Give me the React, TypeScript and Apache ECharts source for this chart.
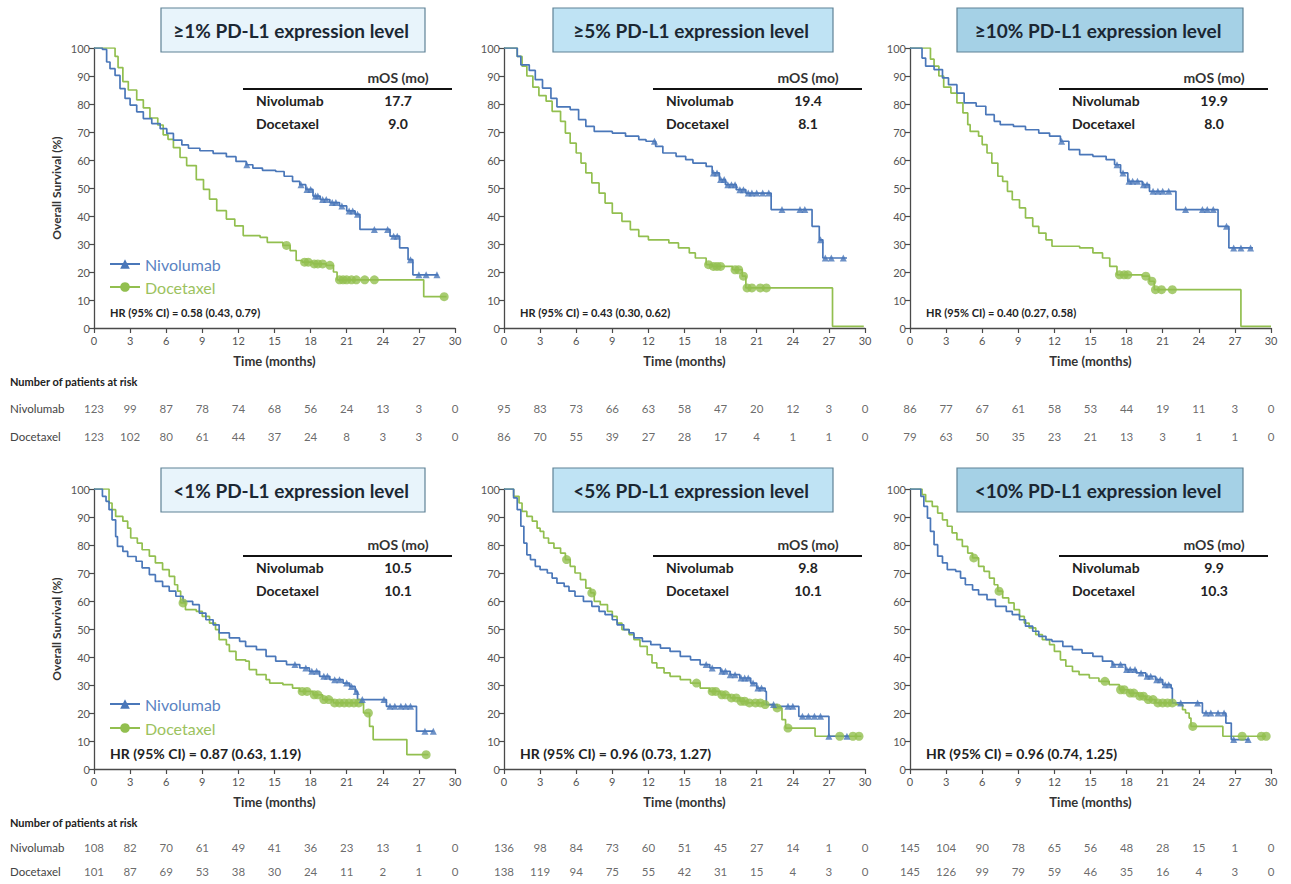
import React, { useEffect, useRef } from 'react';
import * as echarts from 'echarts';

// ---------------- DATA ----------------
const months = [0, 3, 6, 9, 12, 15, 18, 21, 24, 27, 30];

const panelTitles = [
  '≥1% PD-L1 expression level',
  '≥5% PD-L1 expression level',
  '≥10% PD-L1 expression level',
  '<1% PD-L1 expression level',
  '<5% PD-L1 expression level',
  '<10% PD-L1 expression level',
];
const nivoMOS = ['17.7', '19.4', '19.9', '10.5', '9.8', '9.9'];
const doceMOS = ['9.0', '8.1', '8.0', '10.1', '10.1', '10.3'];
const hrTexts = [
  'HR (95% CI) = 0.58 (0.43, 0.79)',
  'HR (95% CI) = 0.43 (0.30, 0.62)',
  'HR (95% CI) = 0.40 (0.27, 0.58)',
  'HR (95% CI) = 0.87 (0.63, 1.19)',
  'HR (95% CI) = 0.96 (0.73, 1.27)',
  'HR (95% CI) = 0.96 (0.74, 1.25)',
];

const nivoRisk = [
  [123, 99, 87, 78, 74, 68, 56, 24, 13, 3, 0],
  [95, 83, 73, 66, 63, 58, 47, 20, 12, 3, 0],
  [86, 77, 67, 61, 58, 53, 44, 19, 11, 3, 0],
  [108, 82, 70, 61, 49, 41, 36, 23, 13, 1, 0],
  [136, 98, 84, 73, 60, 51, 45, 27, 14, 1, 0],
  [145, 104, 90, 78, 65, 56, 48, 28, 15, 1, 0],
];
const doceRisk = [
  [123, 102, 80, 61, 44, 37, 24, 8, 3, 3, 0],
  [86, 70, 55, 39, 27, 28, 17, 4, 1, 1, 0],
  [79, 63, 50, 35, 23, 21, 13, 3, 1, 1, 0],
  [101, 87, 69, 53, 38, 30, 24, 11, 2, 1, 0],
  [138, 119, 94, 75, 55, 42, 31, 15, 4, 3, 0],
  [145, 126, 99, 79, 59, 46, 35, 16, 4, 3, 0],
];

// Kaplan-Meier curves [month, survival %]
const nivo1 = [[0,100],[0.7,99.5],[1.05,95],[1.33,92.6],[1.75,90.2],[2.16,85.5],[2.58,82],[3.0,79.6],[3.55,77.2],[4.1,74.8],[4.8,73],[5.5,71.2],[6.05,69.5],[6.6,67.1],[7.3,65.4],[7.85,64.2],[8.8,63.3],[9.9,62.4],[11,61.2],[11.8,59.5],[12.65,58.3],[13.2,57.1],[14,56.3],[15.1,55.9],[15.8,54.2],[16.5,52.4],[17.1,51.2],[17.6,49.5],[18.2,47.1],[18.8,45.9],[19.6,44.8],[20.4,43.6],[21,41.8],[21.7,40.6],[22.1,35.2],[24.6,32.8],[25.4,28.6],[26.1,24.4],[26.5,19],[28.6,19]];
const doce1 = [[0,100],[1.75,97],[2.0,93],[2.4,88],[2.85,85],[3.55,81.5],[4.1,78.6],[4.65,75],[5.3,72.5],[5.75,69],[6.15,67.4],[6.6,64.4],[7.15,60.9],[7.7,58],[8.5,53],[9.1,49.5],[9.6,46],[10.2,41.9],[11,38.9],[11.7,36.5],[12.4,33],[13.8,32.4],[14.4,30.6],[15.7,29.5],[16.3,27.6],[16.8,24.1],[17.3,23.5],[18.2,22.9],[19.3,22.4],[19.9,20],[20.2,17.2],[27.4,11.2],[29.3,11.2]];
const nivo2 = [[0,100],[1.1,97],[1.4,94],[2.1,92],[2.6,88.7],[3.2,85.7],[3.9,82],[4.4,79],[5.5,78],[6.2,74.4],[6.8,72],[7.5,70.2],[9,69.6],[10.1,68.5],[11.2,67.3],[11.8,66.7],[12.6,64.9],[13.2,62.5],[14.3,61.3],[15.1,60.1],[15.7,58.9],[16.8,57.7],[17.3,55.4],[17.9,53],[18.4,51.2],[19.3,49.4],[20.1,48.2],[22.2,42.3],[25.6,36.3],[26.2,31.5],[26.5,25],[28.5,25]];
const doce2 = [[0,100],[1.1,97],[1.5,93.5],[1.9,90],[2.4,86],[2.9,83],[3.5,81],[4.0,77.4],[4.7,73.8],[5.1,69.6],[5.5,66],[6.0,62.5],[6.4,58.9],[6.8,55.4],[7.3,51.8],[7.9,48.2],[8.4,44.6],[9.0,41],[9.8,38.1],[10.5,35.1],[11.2,32.7],[12,31.5],[13.7,30.4],[14.5,28.6],[15.4,26.8],[15.9,25],[16.8,22.6],[17.3,22],[19,20.8],[19.8,18.5],[20.1,14.3],[27.3,0.6],[29.9,0.6]];
const nivo3 = [[0,100],[1.0,96.4],[1.3,93.5],[2.0,92.3],[2.7,89.3],[3.2,86.9],[3.9,83.9],[4.5,80.4],[5.5,79.2],[6.3,76.2],[7.0,73.8],[7.5,72.6],[8.6,72],[9.6,70.8],[10.7,69.6],[11.6,68.5],[12.5,66.7],[13.2,63.7],[14.1,61.9],[15.2,61.3],[16.3,60.1],[17.0,58.3],[17.5,55.4],[18.1,52.4],[19.3,51.2],[19.9,48.8],[22.1,42.3],[25.6,36.3],[26.5,28.6],[28.5,28.6]];
const doce3 = [[0,100],[1.7,96],[2.0,93.5],[2.4,90],[2.8,86],[3.4,83.9],[3.9,80.4],[4.4,76.8],[4.8,72.6],[5.0,70.2],[5.7,68.5],[6.0,65.5],[6.4,62.5],[6.8,58.9],[7.3,54.2],[7.7,52.4],[8.1,48.8],[8.5,45.8],[9.1,42.9],[9.6,39.3],[10.2,36.3],[10.7,33.9],[11.3,31.5],[11.8,29.2],[14.1,28.6],[15.2,26.8],[16.0,25],[16.6,22],[17.2,19],[19.3,18.5],[19.9,16.7],[20.3,13.7],[27.5,0.6],[30,0.6]];
const nivo4 = [[0,100],[0.7,97.4],[1.0,95.6],[1.25,92.6],[1.5,89],[1.8,83],[1.95,79.5],[2.4,77.7],[2.8,75.9],[3.5,74.2],[4.0,71.8],[4.6,69.4],[5.1,67],[5.7,65.2],[6.25,63.5],[6.8,61.7],[7.4,59.9],[8.2,58.7],[8.75,55.7],[9.3,53.3],[9.9,51.5],[10.4,48.6],[11.25,46.8],[12.1,45.6],[12.6,43.8],[13.5,42.6],[14.3,40.2],[15.1,38.5],[16.0,37.3],[17.1,36.1],[17.9,34.9],[18.75,33.1],[19.6,31.9],[20.7,30.7],[21.25,29.5],[21.7,27.7],[21.9,24.8],[24.3,22.4],[26.8,13.5],[28.2,13.5]];
const doce4 = [[0,100],[1.25,95],[1.5,92.6],[1.8,90.2],[2.4,88.5],[2.8,86],[3.05,82.5],[3.6,80.7],[4.0,78.3],[4.6,76],[5.1,73.6],[5.7,71.2],[6.25,68.8],[6.7,65.8],[6.95,63.5],[7.2,59.3],[7.6,56.9],[8.5,56.3],[9.0,54.5],[9.6,52.1],[10.1,49.8],[10.4,46.2],[11.0,44.4],[11.25,42],[11.8,39],[12.6,38.5],[12.9,35.5],[13.5,33.7],[14.3,31.9],[14.6,30.7],[15.7,30.1],[16.5,28.9],[17.1,27.7],[18.2,26.5],[19.0,24.8],[19.9,23.6],[22.4,20],[22.9,15.2],[23.2,10.5],[26.0,5.1],[27.8,5.1]];
const nivo5 = [[0,100],[0.8,96.8],[1.1,92.6],[1.4,86.7],[1.65,80.7],[1.9,76.5],[2.2,74.8],[2.6,72.4],[3.0,71.2],[3.6,70],[4.0,68.2],[4.4,66.4],[5.0,65.2],[5.4,63.5],[5.9,61.7],[6.6,59.9],[7.3,58.1],[7.9,56.3],[8.4,55.1],[9.0,53.3],[9.4,51.5],[9.95,49.8],[10.4,48.6],[10.8,46.8],[11.5,45.6],[12.2,44.4],[13.0,43.2],[13.8,42],[14.65,40.2],[15.5,39],[16.3,37.3],[17.1,36.1],[18.0,34.9],[18.8,33.7],[19.6,32.5],[20.5,30.7],[21.0,28.9],[21.7,27.7],[21.8,23],[22.7,22.4],[24.5,18.8],[27.0,11.7],[28.75,11.7]];
const doce5 = [[0,100],[0.8,97.4],[1.25,95],[1.5,92],[1.9,90.2],[2.35,88.5],[2.75,86],[3.0,84.9],[3.3,82.5],[3.7,80.7],[4.15,78.9],[4.7,77.1],[5.1,74.8],[5.5,72.4],[5.9,70],[6.35,67.6],[6.8,64.6],[7.2,62.9],[7.5,59.9],[8.0,58.7],[8.6,56.3],[9.0,54.5],[9.4,52.1],[9.8,49.8],[10.4,48],[10.8,46.2],[11.3,43.8],[11.9,40.8],[12.3,37.9],[12.7,36.1],[13.3,34.3],[13.8,33.1],[14.65,31.9],[15.5,30.7],[16.3,28.9],[17.1,27.7],[18.0,26.5],[18.8,25.4],[19.6,24.2],[20.2,23.6],[21.6,23],[22.4,21.8],[23.1,17.6],[23.4,14.6],[25.85,11.7],[29.7,11.7]];
const nivo6 = [[0,100],[0.9,97.4],[1.15,93.8],[1.45,89.6],[1.7,84.9],[2.0,80.1],[2.3,76],[2.7,73.6],[3.1,71.2],[3.8,70.6],[4.2,68.2],[4.6,65.8],[5.2,64],[5.7,62.3],[6.4,60.5],[7.1,58.1],[8.0,56.3],[8.5,55.1],[9.1,53.3],[9.6,51],[10.2,49.2],[10.7,47.4],[11.3,46.2],[11.8,45.6],[12.7,43.8],[13.5,42.6],[14.3,41.4],[15.2,40.2],[16.0,38.5],[16.8,37.3],[17.9,35.5],[18.8,34.3],[19.6,33.1],[20.4,31.9],[21.0,30.1],[21.7,28.9],[21.8,23.6],[24.3,20],[26.25,16.4],[26.7,10.5],[28.2,10.5]];
const doce6 = [[0,100],[1.0,98],[1.3,95.6],[1.85,93.8],[2.3,91.4],[2.7,89],[3.1,86.7],[3.5,84.3],[3.9,81.9],[4.35,79.5],[4.8,77.1],[5.2,75.4],[5.7,72.4],[6.15,70.6],[6.6,68.2],[7.0,65.8],[7.3,63.5],[7.7,61.1],[8.2,59.3],[8.65,56.9],[9.1,54.5],[9.5,52.1],[9.9,50.4],[10.45,48],[11.0,46.2],[11.6,44.4],[12.0,42],[12.5,39],[12.95,36.7],[13.5,34.9],[14.05,33.7],[14.9,32.5],[15.7,31.3],[16.55,30.1],[17.4,28.3],[18.2,27.1],[19.0,26],[19.6,24.8],[20.4,23.6],[22.1,23],[22.65,21.2],[22.9,20],[23.2,18.2],[23.35,15.2],[26.0,11.7],[29.6,11.7]];

// censored observations [month, survival %]
const nivoCens1 = [[12.7,58.3],[17.2,51.2],[17.7,49.5],[18.0,49.5],[18.4,47.1],[18.6,47.1],[19.0,45.9],[19.3,45.9],[19.8,44.8],[20.1,44.8],[20.6,43.6],[21.2,41.8],[21.5,41.8],[21.9,40.6],[23.3,35.2],[24.4,35.2],[24.9,32.8],[25.2,32.8],[26.3,24.4],[27.0,19],[27.6,19],[28.5,19]];
const doceCens1 = [[16.0,29.5],[17.5,23.5],[17.8,23.5],[18.3,22.9],[18.6,22.9],[19.0,22.9],[19.6,22.4],[20.4,17.2],[20.7,17.2],[21.0,17.2],[21.4,17.2],[21.8,17.2],[22.5,17.2],[23.3,17.2],[29.1,11.2]];
const nivoCens2 = [[12.5,66.7],[17.4,55.4],[17.7,55.4],[18.0,53],[18.3,53],[18.6,51.2],[18.9,51.2],[19.2,51.2],[19.6,49.4],[19.9,49.4],[20.3,48.2],[20.6,48.2],[21.0,48.2],[21.5,48.2],[22.0,48.2],[23.1,42.3],[24.6,42.3],[25.0,42.3],[26.3,31.5],[26.7,25],[27.2,25],[28.2,25]];
const doceCens2 = [[17.0,22.6],[17.4,22],[17.7,22],[18.0,22],[19.2,20.8],[19.5,20.8],[19.9,18.5],[20.2,14.3],[20.6,14.3],[21.3,14.3],[21.8,14.3]];
const nivoCens3 = [[12.6,66.7],[17.2,58.3],[17.7,55.4],[18.2,52.4],[18.5,52.4],[18.9,52.4],[19.4,51.2],[19.7,51.2],[20.2,48.8],[20.6,48.8],[21.0,48.8],[21.5,48.8],[22.9,42.3],[24.3,42.3],[24.7,42.3],[25.2,42.3],[26.3,36.3],[26.9,28.6],[27.5,28.6],[28.3,28.6]];
const doceCens3 = [[17.4,19],[17.8,19],[18.1,19],[19.6,18.5],[20.1,16.7],[20.4,13.7],[20.9,13.7],[21.8,13.7]];
const nivoCens4 = [[16.7,37.3],[17.6,36.1],[18.1,34.9],[18.5,34.9],[19.1,33.1],[19.4,33.1],[20.0,31.9],[20.4,31.9],[21.0,30.7],[21.4,29.5],[21.8,27.7],[22.3,24.8],[24.1,24.8],[24.6,22.4],[25.0,22.4],[25.5,22.4],[25.9,22.4],[26.3,22.4],[27.5,13.5],[28.2,13.5]];
const doceCens4 = [[7.4,59.3],[17.3,27.7],[17.7,27.7],[18.3,26.5],[18.6,26.5],[19.1,24.8],[19.5,24.8],[20.0,23.6],[20.4,23.6],[20.8,23.6],[21.2,23.6],[21.6,23.6],[22.0,23.6],[22.8,20],[27.6,5.1]];
const nivoCens5 = [[16.8,37.3],[17.3,36.1],[18.1,34.9],[18.4,34.9],[18.8,33.7],[19.2,33.7],[19.7,32.5],[20.0,32.5],[20.3,32.5],[20.7,30.7],[21.1,28.9],[21.4,28.9],[22.4,23],[23.6,22.4],[24.0,22.4],[24.8,18.8],[25.3,18.8],[25.8,18.8],[26.3,18.8],[27.0,11.7],[28.5,11.7]];
const doceCens5 = [[5.2,74.8],[7.3,62.9],[16.0,30.7],[17.3,27.7],[17.6,27.7],[18.1,26.5],[18.4,26.5],[18.9,25.4],[19.3,25.4],[19.7,24.2],[20.0,24.2],[20.4,23.6],[20.9,23.6],[21.3,23.6],[21.7,23],[22.7,21.8],[23.6,14.6],[27.9,11.7],[29.0,11.7],[29.5,11.7]];
const nivoCens6 = [[16.9,37.3],[17.5,37.3],[18.0,35.5],[18.3,35.5],[18.7,35.5],[19.2,34.3],[19.7,33.1],[20.0,33.1],[20.5,31.9],[20.8,31.9],[21.2,30.1],[21.5,30.1],[22.5,23.6],[23.9,23.6],[24.6,20],[25.0,20],[25.6,20],[26.1,20],[26.9,10.5],[28.1,10.5]];
const doceCens6 = [[5.3,75.4],[7.4,63.5],[16.2,31.3],[17.5,28.3],[17.8,28.3],[18.3,27.1],[18.6,27.1],[19.1,26],[19.4,26],[19.8,24.8],[20.2,24.8],[20.6,23.6],[21.0,23.6],[21.4,23.6],[21.8,23.6],[23.5,15.2],[27.6,11.7],[29.2,11.7],[29.6,11.7]];

const nivoCurves = [nivo1, nivo2, nivo3, nivo4, nivo5, nivo6];
const doceCurves = [doce1, doce2, doce3, doce4, doce5, doce6];
const nivoCens = [nivoCens1, nivoCens2, nivoCens3, nivoCens4, nivoCens5, nivoCens6];
const doceCens = [doceCens1, doceCens2, doceCens3, doceCens4, doceCens5, doceCens6];

// ---------------- STYLE / LAYOUT ----------------
const BLUE = '#4a77b9';
const GREEN = '#92bf4f';
const FONT = 'Lato, "Open Sans", sans-serif';
const AXIS = '#4a4a4a';

const colLeft = [94, 504, 910];
const rowTop = [48, 489];
const PW = 361;
const PH = 280;
const riskTop = [394, 835];
const riskH = [56, 52];
const titleBoxX = [161, 553, 957];
const titleBoxW = [264, 280, 286];
const titleBoxY = [8, 468];
const titleFill = ['#e8f4fb', '#bfe3f4', '#a5d1e6'];
const tableY = [89, 556];
const hrY = [312, 753];
const hrSize = [11, 14];
const riskHeaderY = [381, 822];

function buildOption() {
  const grid: any[] = [];
  const xAxis: any[] = [];
  const yAxis: any[] = [];
  const series: any[] = [];
  const graphic: any[] = [];

  for (let p = 0; p < 6; p++) {
    const c = p % 3;
    const r = Math.floor(p / 3);
    grid.push({ left: colLeft[c], top: rowTop[r], width: PW, height: PH });
  }
  for (let p = 0; p < 6; p++) {
    const c = p % 3;
    const r = Math.floor(p / 3);
    grid.push({ left: colLeft[c], top: riskTop[r], width: PW, height: riskH[r] });
  }

  for (let p = 0; p < 6; p++) {
    const c = p % 3;
    xAxis.push({
      gridIndex: p, type: 'value', min: 0, max: 30, interval: 3,
      axisLine: { show: true, lineStyle: { color: AXIS, width: 1.3 } },
      axisTick: { show: true, length: 5, lineStyle: { color: AXIS, width: 1.2 } },
      axisLabel: { fontSize: 11, color: '#555', margin: 7, fontFamily: FONT },
      splitLine: { show: false },
      name: 'Time (months)', nameLocation: 'middle', nameGap: 26,
      nameTextStyle: { fontWeight: 'bold', fontSize: 13, color: '#333', fontFamily: FONT },
    });
    yAxis.push({
      gridIndex: p, type: 'value', min: 0, max: 100, interval: 10,
      axisLine: { show: true, lineStyle: { color: AXIS, width: 1.3 } },
      axisTick: { show: true, length: 5, lineStyle: { color: AXIS, width: 1.2 } },
      axisLabel: { fontSize: 11, color: '#555', margin: 4, fontFamily: FONT },
      splitLine: { show: false },
      name: c === 0 ? 'Overall Survival (%)' : '',
      nameLocation: 'middle', nameGap: 32, nameRotate: 90,
      nameTextStyle: { fontWeight: 'bold', fontSize: 12, color: '#333', fontFamily: FONT },
    });
  }
  for (let p = 0; p < 6; p++) {
    const c = p % 3;
    xAxis.push({ gridIndex: 6 + p, type: 'value', min: 0, max: 30, show: false });
    yAxis.push({
      gridIndex: 6 + p, type: 'category', data: ['Docetaxel', 'Nivolumab'],
      axisLine: { show: false }, axisTick: { show: false }, splitLine: { show: false },
      axisLabel: { show: c === 0, align: 'left', margin: 84, fontSize: 11.5, color: '#444', fontFamily: FONT },
    });
  }

  for (let p = 0; p < 6; p++) {
    series.push({
      name: 'Nivolumab', type: 'line', step: 'end', xAxisIndex: p, yAxisIndex: p,
      data: nivoCurves[p], symbol: 'triangle', showSymbol: false, silent: true,
      itemStyle: { color: BLUE }, lineStyle: { color: BLUE, width: 1.7 }, z: 3,
    });
    series.push({
      name: 'Docetaxel', type: 'line', step: 'end', xAxisIndex: p, yAxisIndex: p,
      data: doceCurves[p], symbol: 'circle', showSymbol: false, silent: true,
      itemStyle: { color: GREEN }, lineStyle: { color: GREEN, width: 1.7 }, z: 2,
    });
    series.push({
      name: 'Nivolumab censored', type: 'scatter', xAxisIndex: p, yAxisIndex: p,
      data: nivoCens[p], symbol: 'triangle', symbolSize: 7, silent: true,
      itemStyle: { color: BLUE }, z: 4,
    });
    series.push({
      name: 'Docetaxel censored', type: 'scatter', xAxisIndex: p, yAxisIndex: p,
      data: doceCens[p], symbol: 'circle', symbolSize: 9, silent: true,
      itemStyle: { color: GREEN }, z: 3,
    });
    const riskData = months.map((m, i) => [m, 1, nivoRisk[p][i]])
      .concat(months.map((m, i) => [m, 0, doceRisk[p][i]]));
    series.push({
      name: 'At risk', type: 'scatter', xAxisIndex: 6 + p, yAxisIndex: 6 + p,
      data: riskData, symbolSize: 1, silent: true,
      itemStyle: { color: 'rgba(0,0,0,0)' },
      label: {
        show: true, position: 'inside', formatter: (prm: any) => String(prm.value[2]),
        fontSize: 11.5, color: '#444', fontFamily: FONT,
      },
    });
  }

  const txt = (x: number, y: number, text: string, font: string, fill: string, align = 'left') => ({
    type: 'text', x, y, silent: true, z: 20,
    style: { text, font, fill, textAlign: align, textVerticalAlign: 'middle', align, verticalAlign: 'middle' },
  });

  for (let p = 0; p < 6; p++) {
    const c = p % 3;
    const r = Math.floor(p / 3);
    const L = colLeft[c];
    graphic.push({
      type: 'rect', silent: true, z: 15,
      shape: { x: titleBoxX[c], y: titleBoxY[r], width: titleBoxW[c], height: 44 },
      style: { fill: titleFill[c], stroke: '#5f8296', lineWidth: 1.2 },
    });
    graphic.push(txt(titleBoxX[c] + titleBoxW[c] / 2 - 2, titleBoxY[r] + 22, panelTitles[p], `bold 19px ${FONT}`, '#1b2733', 'center'));
    const ty = tableY[r];
    graphic.push(txt(L + 304, ty - 12, 'mOS (mo)', `bold 14px ${FONT}`, '#333', 'center'));
    graphic.push({
      type: 'line', silent: true, z: 20,
      shape: { x1: L + 149, y1: ty, x2: L + 358, y2: ty },
      style: { stroke: '#111', lineWidth: 2 },
    });
    graphic.push(txt(L + 162, ty + 11, 'Nivolumab', `bold 14px ${FONT}`, '#222'));
    graphic.push(txt(L + 304, ty + 11, nivoMOS[p], `bold 14px ${FONT}`, '#222', 'center'));
    graphic.push(txt(L + 162, ty + 34, 'Docetaxel', `bold 14px ${FONT}`, '#222'));
    graphic.push(txt(L + 304, ty + 34, doceMOS[p], `bold 14px ${FONT}`, '#222', 'center'));
    graphic.push(txt(L + 16, hrY[r], hrTexts[p], `bold ${hrSize[r]}px ${FONT}`, '#222'));
  }
  for (let r = 0; r < 2; r++) {
    graphic.push(txt(10, riskHeaderY[r], 'Number of patients at risk', `bold 11px ${FONT}`, '#222'));
  }

  const legendBase = {
    orient: 'vertical', itemWidth: 30, itemHeight: 12, selectedMode: false,
    textStyle: { fontSize: 16, fontFamily: FONT },
    data: [
      { name: 'Nivolumab', textStyle: { color: '#5a83c2' } },
      { name: 'Docetaxel', textStyle: { color: '#9cc25e' } },
    ],
  };

  return {
    animation: false,
    backgroundColor: '#ffffff',
    textStyle: { fontFamily: FONT },
    grid, xAxis, yAxis, series, graphic,
    legend: [
      { ...legendBase, left: 104, top: 251, itemGap: 7 },
      { ...legendBase, left: 104, top: 691, itemGap: 8 },
    ],
  };
}

export default function App() {
  const ref = useRef<HTMLDivElement>(null);
  useEffect(() => {
    document.body.style.margin = '0';
    const chart = echarts.init(ref.current as HTMLDivElement, undefined, { renderer: 'svg' });
    chart.setOption(buildOption() as any);
    return () => chart.dispose();
  }, []);
  return <div ref={ref} style={{ width: 1291, height: 884 }} />;
}
